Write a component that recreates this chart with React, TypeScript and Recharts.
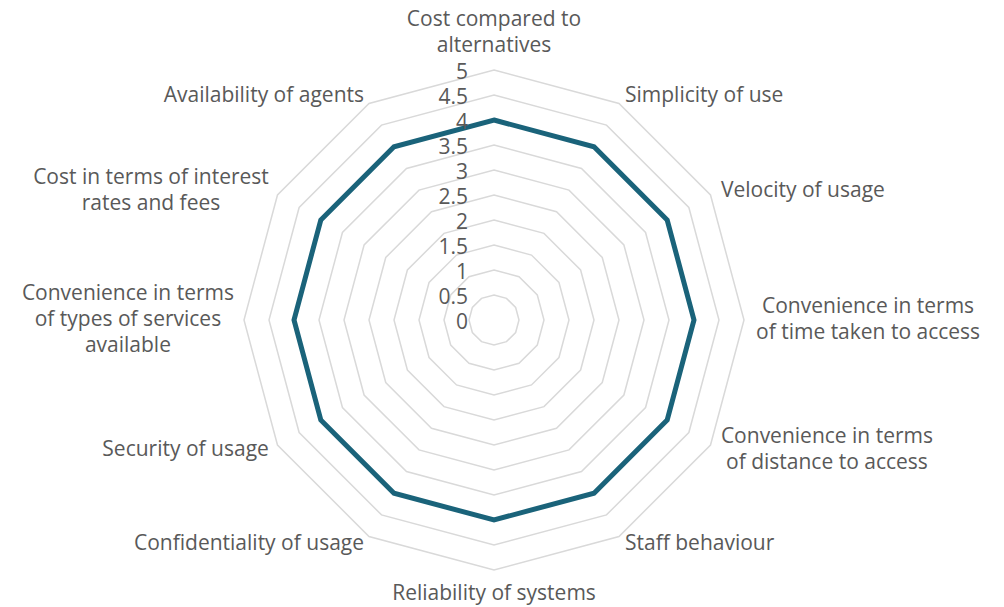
import React from "react";
import { RadarChart, Radar, PolarGrid, PolarAngleAxis, PolarRadiusAxis } from "recharts";

const categories = [
  "Cost compared to alternatives",
  "Simplicity of use",
  "Velocity of usage",
  "Convenience in terms of time taken to access",
  "Convenience in terms of distance to access",
  "Staff behaviour",
  "Reliability of systems",
  "Confidentiality of usage",
  "Security of usage",
  "Convenience in terms of types of services available",
  "Cost in terms of interest rates and fees",
  "Availability of agents",
];

const categoryLines: string[][] = [
  ["Cost compared to", "alternatives"],
  ["Simplicity of use"],
  ["Velocity of usage"],
  ["Convenience in terms", "of time taken to access"],
  ["Convenience in terms", "of distance to access"],
  ["Staff behaviour"],
  ["Reliability of systems"],
  ["Confidentiality of usage"],
  ["Security of usage"],
  ["Convenience in terms", "of types of services", "available"],
  ["Cost in terms of interest", "rates and fees"],
  ["Availability of agents"],
];

const scores = [4, 4, 4, 4, 4, 4, 4, 4, 4, 4, 4, 4];

const radiusTicks = [0, 0.5, 1, 1.5, 2, 2.5, 3, 3.5, 4, 4.5, 5];
const radiusDomain: [number, number] = [0, 5];

const data = categories.map((c, i) => ({ category: c, value: scores[i] }));

const W = 1004;
const H = 607;
const CX = 494;
const CY = 320;
const R = 250;
const FONT = '"Open Sans", sans-serif';
const FS = 21;
const LH = 26;
const TEXT = "#595959";

let ctx: CanvasRenderingContext2D | null = null;
function measure(s: string): number {
  if (!ctx) {
    const c = document.createElement("canvas");
    ctx = c.getContext("2d");
  }
  if (!ctx) return s.length * FS * 0.5;
  ctx.font = `${FS}px "Open Sans"`;
  return ctx.measureText(s).width;
}

function AngleTick(props: any) {
  const { payload, index } = props;
  const coord = payload.coordinate as number;
  const rad = (coord * Math.PI) / 180;
  const h = Math.cos(rad);
  const up = Math.sin(rad);
  const vx = CX + R * h;
  const vy = CY - R * up;
  const lines = categoryLines[index] || [String(payload.value)];
  const n = lines.length;
  const blockW = Math.max(...lines.map(measure));
  let centerX: number;
  if (h > 0.01) centerX = vx + 12 * h + blockW / 2;
  else if (h < -0.01) centerX = vx + 10 * h - blockW / 2;
  else centerX = vx;
  const ys: number[] = [];
  if (Math.abs(h) <= 0.01 && up > 0) {
    for (let i = 0; i < n; i++) ys.push(vy - 26 - (n - 1 - i) * LH);
  } else if (Math.abs(h) <= 0.01 && up < 0) {
    for (let i = 0; i < n; i++) ys.push(vy + 22 + i * LH);
  } else {
    const yc = vy - 9 * up - 2;
    for (let i = 0; i < n; i++) ys.push(yc + (i - (n - 1) / 2) * LH);
  }
  return (
    <g>
      {lines.map((l, i) => (
        <text
          key={i}
          x={centerX}
          y={ys[i]}
          textAnchor="middle"
          dominantBaseline="central"
          fill={TEXT}
          fontFamily={FONT}
          fontSize={FS}
        >
          {l}
        </text>
      ))}
    </g>
  );
}

function RadiusTick(props: any) {
  const { x, y, payload } = props;
  return (
    <text
      x={x - 26}
      y={y + 1}
      textAnchor="end"
      dominantBaseline="central"
      fill={TEXT}
      fontFamily={FONT}
      fontSize={FS}
    >
      {String(payload.value)}
    </text>
  );
}

export default function App() {
  return (
    <div style={{ position: "absolute", left: 0, top: 0, width: W, height: H, background: "#ffffff" }}>
      <RadarChart
        width={W}
        height={H}
        data={data}
        cx={CX}
        cy={CY}
        outerRadius={R}
        margin={{ top: 0, right: 0, bottom: 0, left: 0 }}
      >
        <PolarGrid gridType="polygon" radialLines={false} stroke="#d9d9d9" strokeWidth={1.5} />
        <PolarAngleAxis dataKey="category" tick={<AngleTick />} tickLine={false} axisLine={false} />
        <PolarRadiusAxis
          angle={90}
          type="number"
          domain={radiusDomain}
          ticks={radiusTicks as any}
          tickCount={radiusTicks.length}
          axisLine={false}
          tick={<RadiusTick />}
        />
        <Radar
          dataKey="value"
          stroke="#1a637a"
          strokeWidth={5}
          fill="none"
          fillOpacity={0}
          dot={false}
          isAnimationActive={false}
        />
      </RadarChart>
    </div>
  );
}
